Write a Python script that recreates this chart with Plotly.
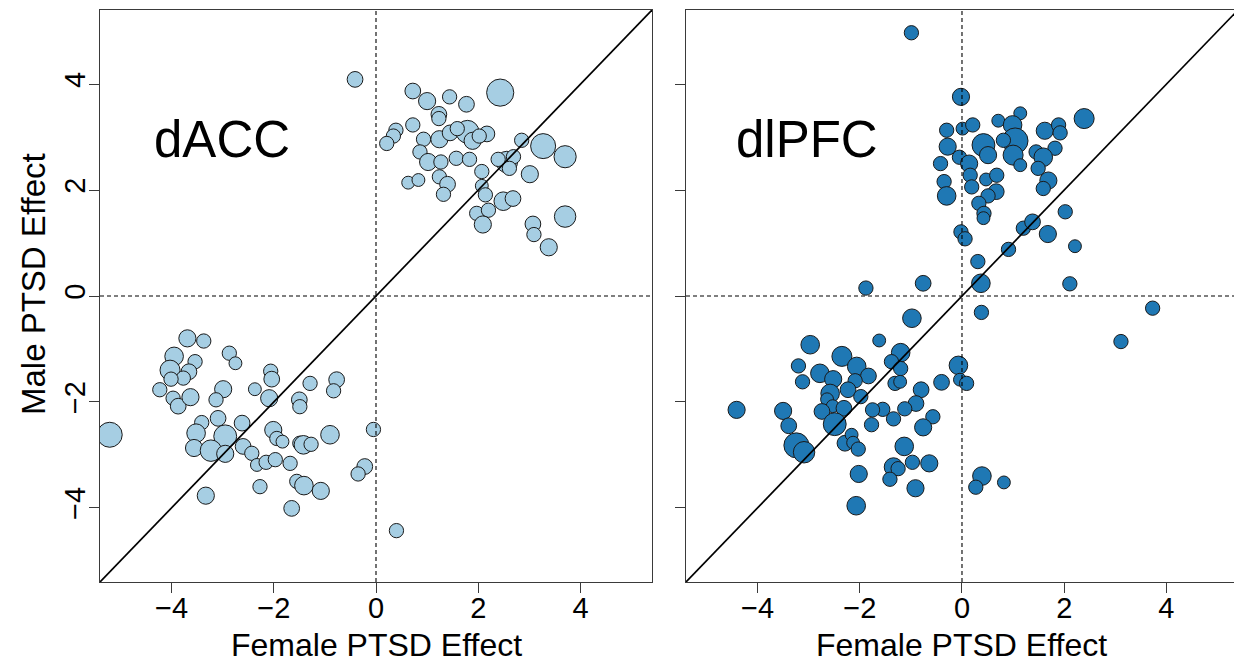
import plotly.graph_objects as go

# ---------------- data ----------------
# dACC panel: female effect (x), male effect (y), relative weight (marker scale)
dacc_female = [0.72, 1.00, 1.44, 1.77, 2.43, 1.23, 1.23, 0.72, 0.39, 0.34, 0.21, 0.93, 1.24, 1.45,
               1.79, 2.17, 1.89, 2.02, 1.59, 0.86, 1.02, 1.27, 1.57, 1.83, 2.07, 1.24, 1.40, 1.32,
               0.63, 0.83, 2.85, 3.27, 3.70, 2.56, 2.39, 2.69, 2.61, 3.01, 2.07, 2.14, 2.49, 2.68,
               1.97, 2.20, 2.09, 3.70, 3.07, 3.09, 3.38, -0.41,
               -3.69, -3.37, -2.87, -2.75, -3.95, -4.03, -3.54, -3.66, -3.77, -4.01, -4.23, -3.97,
               -3.87, -3.63, -2.99, -3.13, -2.37, -5.21, -3.41, -3.52, -3.09, -2.95, -3.56, -3.23,
               -2.95, -2.62, -2.60, -2.43, -3.33, -2.06, -2.04, -2.09, -1.29, -0.77, -0.83, -1.50,
               -1.49, -2.01, -1.94, -1.83, -1.49, -1.42, -1.27, -0.90, -0.05, -2.33, -2.15, -1.97,
               -1.68, -1.55, -1.41, -1.08, -2.27, -1.65, -0.22, -0.35, 0.40]
dacc_male = [3.87, 3.68, 3.76, 3.62, 3.84, 3.43, 3.35, 3.23, 3.13, 3.02, 2.88, 2.96, 2.96, 3.08,
             3.10, 3.06, 2.93, 3.02, 3.16, 2.72, 2.53, 2.53, 2.60, 2.58, 2.35, 2.25, 2.11, 1.92,
             2.14, 2.19, 2.94, 2.83, 2.63, 2.53, 2.58, 2.63, 2.41, 2.30, 2.08, 1.91, 1.79, 1.84,
             1.56, 1.62, 1.35, 1.50, 1.36, 1.16, 0.92, 4.09,
             -0.80, -0.85, -1.08, -1.27, -1.14, -1.40, -1.24, -1.43, -1.55, -1.57, -1.77, -1.93,
             -2.08, -1.91, -1.76, -1.96, -1.76, -2.62, -2.39, -2.59, -2.31, -2.65, -2.87, -2.92,
             -2.98, -2.40, -2.84, -2.97, -3.77, -1.42, -1.57, -1.93, -1.65, -1.58, -1.79, -1.96,
             -2.09, -2.53, -2.69, -2.75, -2.78, -2.81, -2.80, -2.62, -2.52, -3.19, -3.14, -3.09,
             -3.16, -3.50, -3.58, -3.68, -3.60, -4.01, -3.22, -3.36, -4.43]
dacc_weight = [1.1, 1.2, 1.0, 1.1, 1.9, 1.1, 1.0, 1.0, 1.0, 1.0, 1.0, 1.0, 1.2, 1.1,
               1.6, 1.1, 1.2, 1.0, 1.0, 1.0, 1.2, 1.0, 1.0, 1.0, 1.0, 1.0, 1.1, 1.0,
               0.9, 0.9, 1.0, 1.75, 1.55, 1.5, 1.0, 1.0, 1.0, 1.2, 0.9, 1.0, 1.3, 1.1,
               1.0, 1.0, 1.2, 1.5, 1.1, 1.0, 1.2, 1.1,
               1.2, 1.0, 1.0, 0.9, 1.3, 1.4, 1.0, 1.1, 1.0, 1.0, 1.0, 1.0,
               1.1, 1.2, 1.2, 1.0, 0.9, 1.75, 1.0, 1.3, 1.1, 1.6, 1.2, 1.5,
               1.2, 1.1, 1.1, 1.0, 1.2, 1.0, 1.1, 1.2, 1.0, 1.1, 1.0, 1.1,
               1.0, 1.2, 1.0, 0.9, 1.0, 1.3, 1.0, 1.3, 1.0, 0.9, 1.0, 1.0,
               1.0, 1.0, 1.3, 1.2, 1.0, 1.1, 1.1, 1.0, 1.0]

# dlPFC panel
dlpfc_female = [-0.99, -0.02, -0.30, 0.01, 0.21, -0.28, -0.42, -0.05, 0.14, 0.42, 0.51, 0.16, 0.19,
                0.47, 0.68, 0.67, 0.51, -0.35, -0.30, 0.33, 0.43, 0.42, 0.71, 1.14, 0.99, 1.04,
                1.00, 1.14, 0.81, 1.62, 1.89, 1.92, 2.39, 1.82, 1.45, 1.59, 1.49, 1.69, 1.59,
                -0.02, 0.06, 0.31, 0.91, 1.20, 1.38, 1.68, 2.02, 2.21, 2.11, 0.37, -0.76, -1.88,
                3.73, 3.11, 0.38, -0.98, -0.07, -0.04, 0.09, -0.40, -0.80, -0.90, -1.12, -0.57,
                -0.76, -1.34, -1.55, -1.13, -0.97, -0.64, -1.34, -1.25, -1.41, -0.91, 0.39, 0.27,
                0.82, -1.20, -1.38, -1.20, -1.31, -1.21, -1.62, -2.97, -2.35, -3.20, -2.06, -1.83,
                -2.78, -2.52, -3.12, -2.09, -2.23, -1.98, -2.58, -2.64, -2.53, -2.74, -2.31, -1.75,
                -1.77, -4.41, -3.50, -3.39, -2.49, -3.24, -3.09, -2.29, -2.16, -2.13, -2.03, -2.02,
                -2.07]
dlpfc_male = [4.97, 3.76, 3.13, 3.16, 3.23, 2.82, 2.50, 2.62, 2.50, 2.85, 2.66, 2.28, 2.06,
              2.20, 2.28, 1.97, 1.89, 2.16, 1.89, 1.75, 1.56, 1.47, 3.31, 3.45, 3.23, 2.93,
              2.66, 2.47, 2.94, 3.12, 3.23, 3.08, 3.35, 2.79, 2.72, 2.62, 2.41, 2.18, 2.03,
              1.21, 1.08, 0.65, 0.88, 1.28, 1.40, 1.17, 1.59, 0.94, 0.23, 0.24, 0.24, 0.15,
              -0.23, -0.86, -0.31, -0.42, -1.31, -1.58, -1.65, -1.63, -1.77, -2.03, -2.13, -2.28,
              -2.48, -2.32, -2.14, -2.84, -3.14, -3.16, -3.23, -3.26, -3.46, -3.63, -3.40, -3.61,
              -3.52, -1.07, -1.24, -1.37, -1.65, -1.62, -0.84, -0.92, -1.14, -1.32, -1.33, -1.51,
              -1.46, -1.57, -1.62, -1.60, -1.77, -1.90, -1.84, -1.95, -2.08, -2.18, -2.12, -2.15,
              -2.43, -2.15, -2.17, -2.45, -2.42, -2.82, -2.95, -2.78, -2.62, -2.77, -2.89, -3.36,
              -3.96]
dlpfc_weight = [1.0, 1.2, 1.0, 0.9, 1.0, 1.2, 1.0, 1.0, 1.2, 1.6, 1.2, 1.0, 1.0,
                0.9, 1.0, 1.1, 1.0, 1.0, 1.3, 1.0, 1.0, 0.9, 0.9, 0.9, 1.3, 1.8,
                1.4, 0.9, 1.0, 1.2, 1.0, 1.0, 1.4, 1.0, 1.0, 1.3, 1.0, 1.2, 1.0,
                1.0, 1.0, 1.0, 1.0, 1.0, 1.1, 1.2, 1.0, 0.9, 1.0, 1.3, 1.1, 1.0,
                1.0, 1.0, 1.0, 1.3, 1.3, 0.9, 1.0, 1.1, 1.1, 1.1, 1.0, 1.0,
                1.2, 1.0, 1.0, 1.3, 1.0, 1.2, 1.3, 1.0, 1.0, 1.2, 1.3, 1.0,
                0.9, 1.3, 1.0, 1.0, 1.0, 0.9, 0.9, 1.3, 1.4, 1.0, 1.3, 1.1,
                1.3, 1.2, 1.0, 1.0, 1.1, 1.0, 1.3, 0.9, 0.9, 1.1, 1.1, 1.0,
                1.0, 1.2, 1.2, 1.1, 1.6, 1.75, 1.5, 1.1, 0.9, 0.9, 1.0, 1.2,
                1.3]

x_ticks = [-4, -2, 0, 2, 4]
y_ticks = [-4, -2, 0, 2, 4]
panel_names = ["dACC", "dlPFC"]
x_title = "Female PTSD Effect"
y_title = "Male PTSD Effect"

# ---------------- styling / layout ----------------
W, H = 1234, 665
FONT = "Arial, Liberation Sans, sans-serif"
SIZE_SCALE = 14.3
LO = -5.4
PX_PER_UNIT = 51.11
frame_col = "#3a3a3a"

left_px = (100, 652)
right_px = (686, 1234)
top_px, bot_px = 10, 582

fig = go.Figure()


def add_points(xs, ys, ws, color, xa, ya):
    fig.add_trace(go.Scatter(
        x=xs, y=ys, mode="markers", xaxis=xa, yaxis=ya, showlegend=False,
        marker=dict(size=[w * SIZE_SCALE for w in ws], color=color, opacity=1,
                    line=dict(color="#1a1a1a", width=1)),
        hoverinfo="skip"))


def add_refs(xa, ya, hi):
    dash = dict(color="black", width=1.1, dash="4px,3px")
    fig.add_trace(go.Scatter(x=[0, 0], y=[LO, -LO], mode="lines", xaxis=xa, yaxis=ya,
                             line=dash, showlegend=False, hoverinfo="skip"))
    fig.add_trace(go.Scatter(x=[LO, hi], y=[0, 0], mode="lines", xaxis=xa, yaxis=ya,
                             line=dash, showlegend=False, hoverinfo="skip"))
    fig.add_trace(go.Scatter(x=[LO, -LO], y=[LO, -LO], mode="lines", xaxis=xa, yaxis=ya,
                             line=dict(color="black", width=1.7),
                             showlegend=False, hoverinfo="skip"))


right_hi = LO + (right_px[1] - right_px[0]) / PX_PER_UNIT

add_points(dacc_female, dacc_male, dacc_weight, "#a6cee3", "x", "y")
add_refs("x", "y", -LO)
add_points(dlpfc_female, dlpfc_male, dlpfc_weight, "#1f78b4", "x2", "y2")
add_refs("x2", "y2", right_hi)

ydom = [(H - bot_px) / H, (H - top_px) / H]

axis_common = dict(showgrid=False, zeroline=False, showline=True, linecolor=frame_col,
                   linewidth=1.3, ticks="outside", ticklen=10, tickwidth=1.3,
                   tickcolor=frame_col, tickfont=dict(family=FONT, size=29, color="black"))

fig.update_layout(
    width=W, height=H, autosize=False,
    margin=dict(l=0, r=0, t=0, b=0),
    paper_bgcolor="white", plot_bgcolor="white",
    xaxis=dict(domain=[left_px[0] / W, left_px[1] / W], range=[LO, -LO], tickvals=x_ticks,
               mirror=True, anchor="y", ticklabelstandoff=-10, **axis_common),
    yaxis=dict(domain=ydom, range=[LO, -LO], tickvals=y_ticks, tickangle=-90,
               mirror=True, anchor="x", ticklabelstandoff=-8, **axis_common),
    xaxis2=dict(domain=[right_px[0] / W, 1.0], range=[LO, right_hi], tickvals=x_ticks,
                mirror=True, anchor="y2", ticklabelstandoff=-10, **axis_common),
    yaxis2=dict(domain=ydom, range=[LO, -LO], tickvals=y_ticks, showticklabels=False,
                mirror=False, anchor="x2", **axis_common),
)

annos = [
    dict(text=panel_names[0], x=222 / W, y=1 - 139 / H, xref="paper", yref="paper",
         showarrow=False, xanchor="center", yanchor="middle",
         font=dict(family=FONT, size=51, color="black")),
    dict(text=panel_names[1], x=807 / W, y=1 - 139 / H, xref="paper", yref="paper",
         showarrow=False, xanchor="center", yanchor="middle",
         font=dict(family=FONT, size=51, color="black")),
    dict(text=x_title, x=376 / W, y=1 - 645 / H, xref="paper", yref="paper",
         showarrow=False, xanchor="center", yanchor="middle",
         font=dict(family=FONT, size=32, color="black")),
    dict(text=x_title, x=962 / W, y=1 - 645 / H, xref="paper", yref="paper",
         showarrow=False, xanchor="center", yanchor="middle",
         font=dict(family=FONT, size=32, color="black")),
    dict(text=y_title, x=34 / W, y=1 - 284 / H, xref="paper", yref="paper",
         showarrow=False, xanchor="center", yanchor="middle", textangle=-90,
         font=dict(family=FONT, size=33, color="black")),
]
fig.update_layout(annotations=annos)

fig.write_html("out.html")
